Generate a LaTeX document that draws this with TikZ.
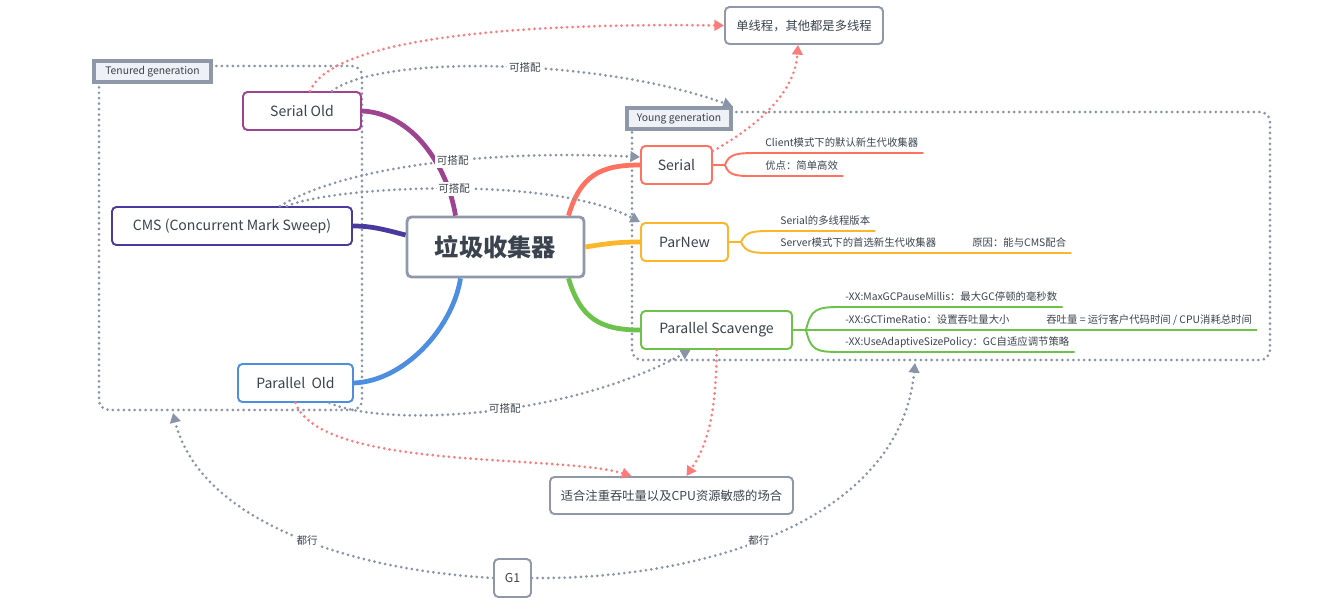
\documentclass[tikz,border=0pt]{standalone}
\usepackage{fontspec}
\setmainfont{Noto Sans CJK SC}
\usetikzlibrary{arrows.meta}

\definecolor{textc}{HTML}{3A434E}
\definecolor{boxgrey}{HTML}{8E98A9}
\definecolor{linkgrey}{HTML}{8A94A7}
\definecolor{groupfill}{HTML}{EEF1F5}
\definecolor{hintred}{HTML}{FF7B7B}
\definecolor{soc}{HTML}{9E4390}
\definecolor{cmsc}{HTML}{4A3A9E}
\definecolor{poc}{HTML}{4D8EE0}
\definecolor{sc}{HTML}{FF7262}
\definecolor{pnc}{HTML}{FDB52A}
\definecolor{psc}{HTML}{6CC24A}

\begin{document}
\begin{tikzpicture}[x=0.02cm,y=-0.02cm,>={Triangle[width=6pt,length=5.5pt]},
                    every node/.style={text=textc}]
	\tikzstyle{topic}=[draw,rounded corners=2.5pt,line width=1.1pt,fill=white,
	                   minimum height=0.76cm,font=\fontsize{8}{10}\selectfont]
	\tikzstyle{note}=[topic,draw=boxgrey,minimum height=0.74cm,font=\fontsize{7}{9}\selectfont]
	\tikzstyle{group}=[draw=boxgrey,line width=1.9pt,fill=groupfill,minimum height=0.42cm,
	                   inner sep=0pt,font=\fontsize{5.9}{7}\selectfont]
	\tikzstyle{frame}=[draw=linkgrey,line width=1.7pt,dash pattern=on 0pt off 3.1pt,
	                   line cap=round,rounded corners=0.2cm]
	\tikzstyle{link}=[draw=linkgrey,line width=1.7pt,dash pattern=on 0pt off 3.1pt,
	                  line cap=round,->]
	\tikzstyle{hint}=[link,draw=hintred]
	\tikzstyle{lbl}=[fill=white,inner sep=1pt,font=\fontsize{6}{7}\selectfont]
	\tikzstyle{branch}=[line width=2.7pt]
	\tikzstyle{twig}=[line width=1.1pt]
	\tikzstyle{leaf}=[anchor=south west,inner xsep=0.1cm,inner ysep=0.06cm,
	                  font=\fontsize{5.9}{7}\selectfont,text height=1.5ex,text depth=0.3ex]

	\useasboundingbox (0,0) rectangle (1322,604);

	% generation frames
	\draw[frame] (211,66) -- (362,66) -- (362,410) -- (99,410) -- (99,82);
	\draw[frame] (731,112) -- (1270,112) -- (1270,360) -- (632,360) -- (632,129);
	\coordinate (tenB) at (173,413);
	\coordinate (youngB) at (915,363);

	\node[group,minimum width=2.34cm] (TG) at (152.5,71.5) {Tenured generation};
	\node[group,minimum width=2.08cm] (YG) at (679,118.5) {Young generation};

	% collectors
	\node[topic,draw=boxgrey,line width=1.6pt,minimum width=3.54cm,minimum height=1.2cm,
	      font=\fontsize{13.8}{16}\selectfont\bfseries] (root) at (495.5,247) {垃圾收集器};
	\node[topic,draw=soc,minimum width=2.36cm]  (SO)  at (302,111)   {Serial Old};
	\node[topic,draw=cmsc,minimum width=4.8cm]  (CMS) at (232,226)   {CMS (Concurrent Mark Sweep)};
	\node[topic,draw=poc,minimum width=2.3cm]   (PO)  at (295.5,383) {Parallel\ \ Old};
	\node[topic,draw=sc,minimum width=1.42cm]   (S)   at (676.5,165) {Serial};
	\node[topic,draw=pnc,minimum width=1.74cm]  (PN)  at (684.5,242) {ParNew};
	\node[topic,draw=psc,minimum width=3.02cm]  (PS)  at (716.5,330) {Parallel Scavenge};

	\node[note,minimum width=3.16cm] (ST) at (804,25.5)  {单线程，其他都是多线程};
	\node[note,minimum width=4.86cm] (TP) at (671.5,495.5) {适合注重吞吐量以及CPU资源敏感的场合};
	\node[note,minimum width=0.74cm,minimum height=0.76cm] (G1) at (512.5,578) {G1};

	% branches
	\draw[branch,soc]  ([xshift=-0.8cm]root.north) .. controls +(-8,-50) and +(50,2) .. (SO.east);
	\draw[branch,cmsc] ([yshift=0.24cm]root.west) .. controls +(-20,-5) and +(20,0) .. (CMS.east);
	\draw[branch,poc]  ([xshift=-0.7cm]root.south) .. controls +(-8,50) and +(50,-2) .. (PO.east);
	\draw[branch,sc]   ([xshift=1.46cm]root.north) .. controls +(12,-40) and +(-40,0) .. (S.west);
	\draw[branch,pnc]  (root.east) .. controls +(25,-4) and +(-20,0) .. (PN.west);
	\draw[branch,psc]  ([xshift=1.46cm]root.south) .. controls +(12,40) and +(-40,0) .. (PS.west);

	% details
	\node[leaf] (s1)  at (760,153)  {Client模式下的默认新生代收集器};
	\node[leaf] (s2)  at (760,176)  {优点：简单高效};
	\node[leaf] (p1)  at (775,231)  {Serial的多线程版本};
	\node[leaf] (p2)  at (775,253)  {Server模式下的首选新生代收集器};
	\node[leaf] (p3)  at (967,253)  {原因：能与CMS配合};
	\node[leaf] (ps1) at (840,307)  {-XX:MaxGCPauseMillis：最大GC停顿的毫秒数};
	\node[leaf] (ps2) at (840,330)  {-XX:GCTimeRatio：设置吞吐量大小};
	\node[leaf] (ps3) at (1041,330) {吞吐量 = 运行客户代码时间 / CPU消耗总时间};
	\node[leaf] (ps4) at (840,352)  {-XX:UseAdaptiveSizePolicy：GC自适应调节策略};

	\draw[twig,sc] (S.east) -- ++(12,0) coordinate (sfork)
	      .. controls +(4,-12) and +(-22,0) .. (s1.south west) -- (s1.south east);
	\draw[twig,sc] (sfork) .. controls +(4,12) and +(-22,0) .. (s2.south west) -- (s2.south east);
	\draw[twig,pnc] (PN.east) -- ++(12,0) coordinate (pfork)
	      .. controls +(5,-11) and +(-22,0) .. (p1.south west) -- (p1.south east);
	\draw[twig,pnc] (pfork) .. controls +(5,11) and +(-22,0) .. (p2.south west) -- (p3.south east);
	\draw[twig,psc] (PS.east) -- ++(13,0) coordinate (psfork)
	      .. controls +(5,-20) and +(-25,0) .. (ps1.south west) -- (ps1.south east);
	\draw[twig,psc] (psfork) -- (ps3.south east);
	\draw[twig,psc] (psfork) .. controls +(5,20) and +(-25,0) .. (ps4.south west) -- (ps4.south east);

	% pairings
	\draw[link] ([xshift=0.6cm]SO.north) .. controls +(48,-37) and +(-131,-48) ..
	      node[lbl,pos=0.55] {可搭配} (YG.north east);
	\draw[link] ([xshift=0.96cm]CMS.north) .. controls +(70,-42) and +(-141,-7) ..
	      node[lbl,pos=0.55] {可搭配} ([yshift=0.16cm]S.west);
	\draw[link] ([xshift=1.1cm]CMS.north) .. controls +(43,-19) and +(-91,-48) ..
	      node[lbl,pos=0.52] {可搭配} (PN.north west);
	\draw[link] ([xshift=0.68cm]PO.south) .. controls +(50,23) and +(-130,71) ..
	      node[lbl,pos=0.56] {可搭配} ([xshift=-0.52cm]PS.south);
	\draw[link] (G1.west) .. controls +(-144,-8) and +(27,108) ..
	      node[lbl,pos=0.45] {都行} (tenB);
	\draw[link] (G1.east) .. controls +(169,2) and +(-15,159) ..
	      node[lbl,pos=0.45] {都行} (youngB);

	% hints
	\draw[hint] ([xshift=0.16cm]SO.north) .. controls +(20,-47) and +(-245,-3) .. (ST.west);
	\draw[hint] ([yshift=-0.12cm]S.north east) .. controls +(48,-27) and +(-3,46) .. ([xshift=-0.12cm]ST.south);
	\draw[hint] (PO.south) .. controls +(25,68) and +(-71,-22) .. ([xshift=-0.8cm]TP.north);
	\draw[hint] (PS.south) .. controls +(0,71) and +(18,-27) .. ([xshift=0.3cm]TP.north);
\end{tikzpicture}
\end{document}
